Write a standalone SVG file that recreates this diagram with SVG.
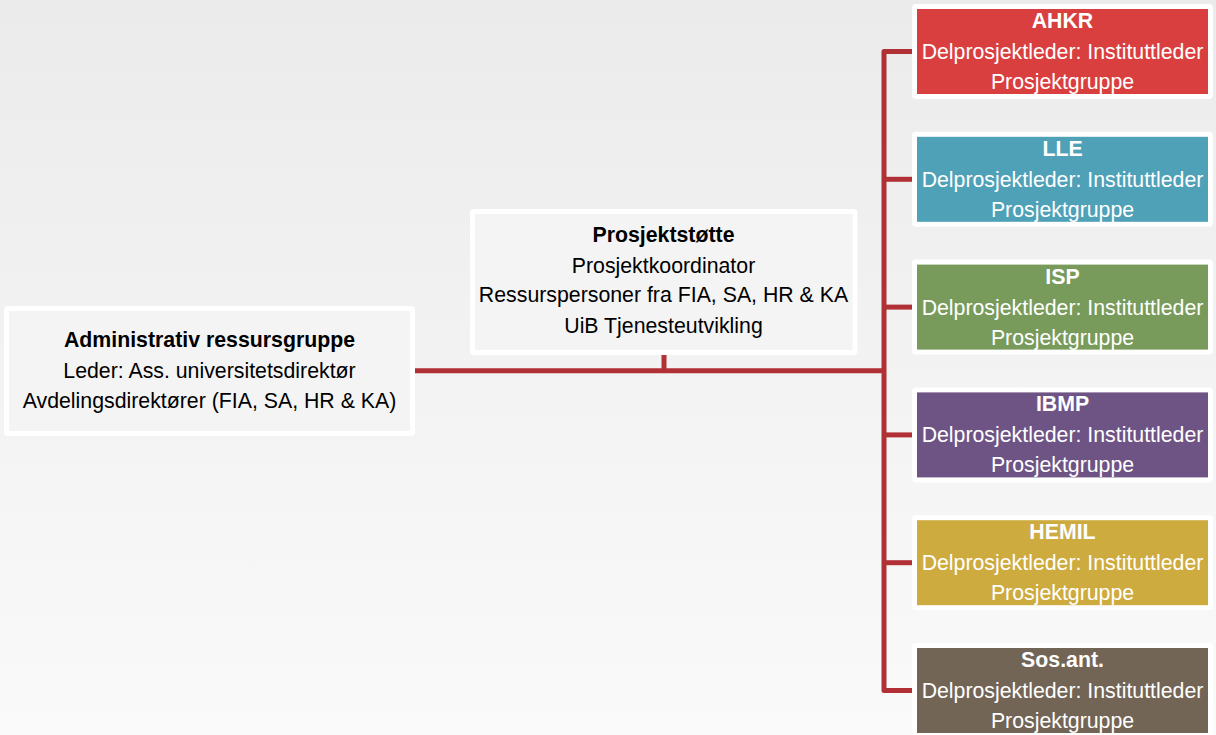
<svg xmlns="http://www.w3.org/2000/svg" width="1216" height="735" viewBox="0 0 1216 735">
<defs>
<linearGradient id="bg" x1="0" y1="0" x2="0" y2="1">
<stop offset="0" stop-color="#ebebeb"/>
<stop offset="1" stop-color="#fafafa"/>
</linearGradient>
</defs>
<style>
.frame{fill:#ffffff}
.grey{fill:#f4f4f4}
.t{font-family:"Liberation Sans",Arial,sans-serif;font-size:21.3px;text-anchor:middle}
.dk{fill:#000000}
.wt{fill:#ffffff}
.b{font-weight:bold}
.conn{fill:none;stroke:#b03035;stroke-width:5;stroke-linejoin:round;stroke-linecap:butt}
</style>
<rect width="1216" height="735" fill="url(#bg)"/>
<g id="connectors">
<path class="conn" d="M415 370.8 H884"/>
<path class="conn" d="M664 355 V370.8"/>
<path class="conn" d="M912 51.5 H884 V690.5 H912"/>
<path class="conn" d="M884 179.3 H912"/>
<path class="conn" d="M884 307.1 H912"/>
<path class="conn" d="M884 434.9 H912"/>
<path class="conn" d="M884 562.7 H912"/>
</g>
<g id="admin">
<rect class="frame" x="4" y="306" width="411" height="130" rx="4"/>
<rect class="grey" x="9" y="311" width="401" height="120"/>
<text class="t dk b" x="209.5" y="346.5">Administrativ ressursgruppe</text>
<text class="t dk" x="209.5" y="377.5">Leder: Ass. universitetsdirektør</text>
<text class="t dk" x="209.5" y="408.3">Avdelingsdirektører (FIA, SA, HR &amp; KA)</text>
</g>
<g id="prosjektstotte">
<rect class="frame" x="470" y="209" width="387.5" height="146" rx="4"/>
<rect class="grey" x="475" y="214" width="377.5" height="136"/>
<text class="t dk b" x="663.5" y="241.7">Prosjektstøtte</text>
<text class="t dk" x="663.5" y="272.5">Prosjektkoordinator</text>
<text class="t dk" x="663.5" y="302">Ressurspersoner fra FIA, SA, HR &amp; KA</text>
<text class="t dk" x="663.5" y="333">UiB Tjenesteutvikling</text>
</g>
<g id="ahkr">
<rect class="frame" x="912" y="4" width="301" height="95" rx="4"/>
<rect x="917" y="9" width="291" height="85" fill="#da3f3f"/>
<text class="t wt b" x="1062.5" y="28">AHKR</text>
<text class="t wt" x="1062.5" y="59">Delprosjektleder: Instituttleder</text>
<text class="t wt" x="1062.5" y="89">Prosjektgruppe</text>
</g>
<g id="lle">
<rect class="frame" x="912" y="131.8" width="301" height="95" rx="4"/>
<rect x="917" y="136.8" width="291" height="85" fill="#4fa1b8"/>
<text class="t wt b" x="1062.5" y="155.8">LLE</text>
<text class="t wt" x="1062.5" y="186.8">Delprosjektleder: Instituttleder</text>
<text class="t wt" x="1062.5" y="216.8">Prosjektgruppe</text>
</g>
<g id="isp">
<rect class="frame" x="912" y="259.6" width="301" height="95" rx="4"/>
<rect x="917" y="264.6" width="291" height="85" fill="#789b5b"/>
<text class="t wt b" x="1062.5" y="283.6">ISP</text>
<text class="t wt" x="1062.5" y="314.6">Delprosjektleder: Instituttleder</text>
<text class="t wt" x="1062.5" y="344.6">Prosjektgruppe</text>
</g>
<g id="ibmp">
<rect class="frame" x="912" y="387.4" width="301" height="95" rx="4"/>
<rect x="917" y="392.4" width="291" height="85" fill="#6e5485"/>
<text class="t wt b" x="1062.5" y="411.4">IBMP</text>
<text class="t wt" x="1062.5" y="442.4">Delprosjektleder: Instituttleder</text>
<text class="t wt" x="1062.5" y="472.4">Prosjektgruppe</text>
</g>
<g id="hemil">
<rect class="frame" x="912" y="515.2" width="301" height="95" rx="4"/>
<rect x="917" y="520.2" width="291" height="85" fill="#ceab3f"/>
<text class="t wt b" x="1062.5" y="539.2">HEMIL</text>
<text class="t wt" x="1062.5" y="570.2">Delprosjektleder: Instituttleder</text>
<text class="t wt" x="1062.5" y="600.2">Prosjektgruppe</text>
</g>
<g id="sosant">
<rect class="frame" x="912" y="643" width="301" height="95" rx="4"/>
<rect x="917" y="648" width="291" height="85" fill="#736556"/>
<text class="t wt b" x="1062.5" y="667">Sos.ant.</text>
<text class="t wt" x="1062.5" y="698">Delprosjektleder: Instituttleder</text>
<text class="t wt" x="1062.5" y="728">Prosjektgruppe</text>
</g>
</svg>
